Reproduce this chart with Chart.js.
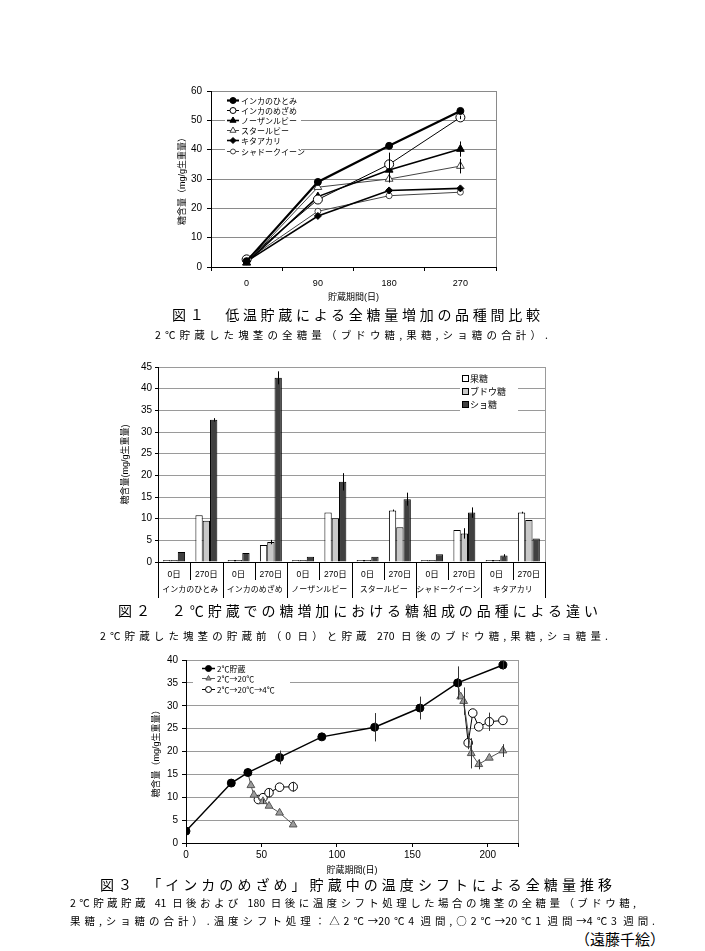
<!DOCTYPE html>
<html lang="ja">
<head>
<meta charset="utf-8">
<title>低温貯蔵による全糖量の推移</title>
<script src="https://cdn.jsdelivr.net/npm/chart.js@4.4.1/dist/chart.umd.min.js"></script>
<style>
  body { margin: 0; background: #fff; width: 705px; height: 951px; position: relative; overflow: hidden;
         font-family: "Noto Sans CJK JP", sans-serif; color: #000; }
  canvas { position: absolute; }
  .cap { position: absolute; line-height: 1.2; text-align: justify; text-align-last: justify; }
  .title { font-size: 14px; }
  .sub { font-size: 10.5px; }
</style>
</head>
<body>
<canvas id="chart1" width="350" height="232" style="left:160px;top:80px"></canvas>
<div class="cap title" style="left:172px;top:306px;width:368px">図１　低温貯蔵による全糖量増加の品種間比較</div>
<div class="cap sub" style="left:155px;top:329px;width:393px">2℃貯蔵した塊茎の全糖量（ブドウ糖,果糖,ショ糖の合計）.</div>

<canvas id="chart2" width="450" height="255" style="left:110px;top:355px"></canvas>
<div class="cap title" style="left:118px;top:602px;width:480px">図２　２℃貯蔵での糖増加における糖組成の品種による違い</div>
<div class="cap sub" style="left:100px;top:630px;width:508px">2℃貯蔵した塊茎の貯蔵前（0 日）と貯蔵 270 日後のブドウ糖,果糖,ショ糖量.</div>

<canvas id="chart3" width="392" height="226" style="left:140px;top:650px"></canvas>
<div class="cap title" style="left:100px;top:876px;width:512px">図３　「インカのめざめ」貯蔵中の温度シフトによる全糖量推移</div>
<div class="cap sub" style="left:70px;top:897px;width:566px">2℃貯蔵貯蔵 41 日後および 180 日後に温度シフト処理した場合の塊茎の全糖量（ブドウ糖,</div>
<div class="cap sub" style="left:70px;top:915px;width:585px">果糖,ショ糖の合計）.温度シフト処理：△2℃→20℃4 週間,○2℃→20℃1 週間→4℃3 週間.</div>
<div class="cap title" style="left:575px;top:930px;width:85px;font-size:15px">（遠藤千絵）</div>

<script>
// ---- 図1: 品種別の全糖量 (mg/g生重量)
const c1Days = ['0', '90', '180', '270'];
const c1Hitomi = [2.0, 29.0, 41.3, 53.2];
const c1Mezame = [2.6, 23.0, 35.0, 51.0];
const c1Northern = [1.5, 24.0, 33.1, 40.2];
const c1StarRuby = [1.4, 27.2, 30.0, 34.4];
const c1Kitaakari = [1.9, 17.4, 26.1, 26.8];
const c1Shadow = [2.3, 19.0, 24.3, 25.5];
const c1MezameErr = [0, 0, 4.0, 0.6];
const c1NorthernErr = [0, 0, 1.0, 2.6];
const c1StarRubyErr = [0, 0, 1.2, 2.5];
const c1Ticks = [0, 10, 20, 30, 40, 50, 60];

// ---- 図2: 糖組成
const c2Labels = ['0日', '270日', '0日', '270日', '0日', '270日', '0日', '270日', '0日', '270日', '0日', '270日'];
const c2Groups = ['インカのひとみ', 'インカのめざめ', 'ノーザンルビー', 'スタールビー', 'シャドークイーン', 'キタアカリ'];
const c2Fructose = [0.1, 10.8, 0.1, 3.9, 0.1, 11.4, 0.1, 11.9, 0.1, 7.4, 0.1, 11.4];
const c2Glucose = [0.1, 9.5, 0.2, 4.6, 0.2, 10.1, 0.2, 8.0, 0.2, 6.6, 0.2, 9.7];
const c2Sucrose = [2.3, 32.8, 2.1, 42.5, 1.2, 18.5, 1.2, 14.5, 1.8, 11.4, 1.5, 5.4];
const c2FructoseErr = [0, 0, 0, 0, 0, 0, 0, 0.2, 0, 0, 0, 0.2];
const c2GlucoseErr = [0, 0, 0, 0.5, 0, 0, 0, 0, 0, 1.2, 0, 0];
const c2SucroseErr = [0, 0.4, 0, 1.5, 0, 2.0, 0, 1.5, 0, 1.2, 0.3, 0];

// ---- 図3: 「インカのめざめ」温度シフト
const c3Days = [0, 30, 41, 62, 90, 125, 155, 180, 210];
const c3Base = [2.6, 13.1, 15.4, 18.7, 23.2, 25.3, 29.5, 35.0, 38.9];
const c3BaseErr = [0, 0, 0, 1.5, 0, 3.1, 2.5, 3.6, 1.0];
const c3ShiftDays = [41, 43, 45, 51, 55, 62, 71, null, 180, 182, 184, 189, 194, 201, 210];
const c3Shift = [15.4, 12.6, 10.5, 9.1, 8.1, 6.6, 4.0, null, 35.0, 32.0, 31.0, 19.6, 17.2, 18.6, 20.2];
const c3ShiftErr = [0, 0, 0, 0.5, 0, 0, 0, 0, 0, 0, 3.0, 3.3, 1.1, 0, 1.4];
const c3ReturnDays = [45, 48, 51, 55, 62, 71, null, 184, 187, 190, 194, 201, 210];
const c3Return = [10.5, 9.5, 9.9, 11.0, 12.2, 12.3, null, 31.0, 21.9, 28.4, 25.4, 26.5, 26.8];
const c3ReturnErr = [0, 0, 0, 1.0, 0, 1.1, 0, 0, 1.4, 0, 0, 2.0, 0];

Chart.defaults.font.family = '"Liberation Sans", "Noto Sans CJK JP", sans-serif';
Chart.defaults.color = '#000';
Chart.defaults.animation = false;
Chart.defaults.plugins.legend.display = false;
Chart.defaults.plugins.tooltip.enabled = false;

const fixWidth = w => scale => { scale.width = w; };
const fixHeight = h => scale => { scale.height = h; };

// gray box round the plot area (Excel style)
const plotFrame = {
    id: 'plotFrame',
    beforeDraw(chart, args, opts) {
        const { ctx, chartArea: a } = chart;
        ctx.save();
        ctx.strokeStyle = opts.color;
        ctx.lineWidth = 1;
        ctx.strokeRect(Math.round(a.left) + 0.5, Math.round(a.top) + 0.5, Math.round(a.width), Math.round(a.height));
        ctx.restore();
    }
};

// vertical error bars from dataset.errorBars
const errorBars = {
    id: 'errorBars',
    afterDatasetsDraw(chart, args, opts) {
        const { ctx } = chart;
        const y = chart.scales.y;
        ctx.save();
        ctx.strokeStyle = opts.color;
        ctx.lineWidth = 1;
        chart.data.datasets.forEach((ds, i) => {
            if (!ds.errorBars) return;
            const meta = chart.getDatasetMeta(i);
            meta.data.forEach((el, j) => {
                const e = ds.errorBars[j];
                if (!e) return;
                const v = meta.controller.getParsed(j).y;
                const x = Math.round(el.x) + 0.5;
                ctx.beginPath();
                ctx.moveTo(x, y.getPixelForValue(v - e));
                ctx.lineTo(x, y.getPixelForValue(v + e));
                ctx.stroke();
            });
        });
        ctx.restore();
    }
};

// legend drawn inside the plot area on a white box
const insideLegend = {
    id: 'insideLegend',
    afterDraw(chart, args, o) {
        const { ctx, chartArea: a } = chart;
        const x0 = a.left + o.x;
        const y0 = a.top + o.y;
        ctx.save();
        ctx.fillStyle = '#fff';
        ctx.fillRect(x0, y0, o.width, o.height);
        ctx.font = o.font;
        ctx.textBaseline = 'middle';
        chart.data.datasets.forEach((ds, i) => {
            const y = Math.round(y0 + o.padTop + i * o.rowHeight) + 0.5;
            if (o.kind === 'box') {
                ctx.fillStyle = ds.backgroundColor;
                ctx.strokeStyle = '#000';
                ctx.lineWidth = 1;
                ctx.fillRect(x0 + o.padLeft, y - 3, 6, 6);
                ctx.strokeRect(x0 + o.padLeft + 0.5, y - 3, 6, 6);
            } else {
                ctx.strokeStyle = ds.borderColor;
                ctx.lineWidth = ds.borderWidth;
                ctx.beginPath();
                ctx.moveTo(x0 + o.padLeft, y);
                ctx.lineTo(x0 + o.padLeft + o.lineLength, y);
                ctx.stroke();
                ctx.fillStyle = ds.pointBackgroundColor;
                ctx.strokeStyle = ds.pointBorderColor;
                ctx.lineWidth = 1;
                Chart.helpers.drawPoint(ctx, {
                    pointStyle: ds.pointStyle, rotation: 0, borderWidth: 1,
                    radius: (ds.legendRadius || 3)
                }, x0 + o.padLeft + o.lineLength / 2, y);
            }
            ctx.fillStyle = '#000';
            ctx.fillText(ds.label, x0 + o.textX, y);
        });
        ctx.restore();
    }
};

// two-level category labels for chart 2
const groupLabels = {
    id: 'groupLabels',
    afterDraw(chart, args, o) {
        const { ctx, chartArea: a } = chart;
        const n = chart.data.labels.length;
        const w = a.width / n;
        ctx.save();
        ctx.strokeStyle = '#000';
        ctx.lineWidth = 1;
        for (let i = 0; i <= n; i++) {
            const x = Math.round(a.left + i * w) + 0.5;
            ctx.beginPath();
            ctx.moveTo(x, a.bottom);
            ctx.lineTo(x, a.bottom + (i % 2 === 0 ? o.groupLine : o.tickLine));
            ctx.stroke();
        }
        ctx.font = o.font;
        ctx.fillStyle = '#000';
        ctx.textAlign = 'center';
        ctx.textBaseline = 'middle';
        c2Groups.forEach((g, k) => ctx.fillText(g, a.left + (2 * k + 1) * w, a.bottom + o.offset));
        ctx.restore();
    }
};

function lineSet(label, data, style) {
    return Object.assign({
        label, data,
        borderColor: '#000', pointBorderColor: '#000', pointBorderWidth: 1,
        tension: 0, fill: false
    }, style);
}

// ---------- chart 1
new Chart(document.getElementById('chart1'), {
    type: 'line',
    data: {
        labels: c1Days,
        datasets: [
            lineSet('インカのひとみ', c1Hitomi, { borderWidth: 2.2, pointStyle: 'circle', pointRadius: 3.5, pointBackgroundColor: '#000', legendRadius: 3 }),
            lineSet('インカのめざめ', c1Mezame, { borderWidth: 1, pointStyle: 'circle', pointRadius: 4.5, pointBackgroundColor: '#fff', errorBars: c1MezameErr, legendRadius: 3 }),
            lineSet('ノーザンルビー', c1Northern, { borderWidth: 1.6, pointStyle: 'triangle', pointRadius: 4.5, pointBackgroundColor: '#000', errorBars: c1NorthernErr, legendRadius: 3.5 }),
            lineSet('スタールビー', c1StarRuby, { borderWidth: 1, borderColor: '#444', pointStyle: 'triangle', pointRadius: 4.5, pointBackgroundColor: '#fff', pointBorderColor: '#444', errorBars: c1StarRubyErr, legendRadius: 3.5 }),
            lineSet('キタアカリ', c1Kitaakari, { borderWidth: 1.6, pointStyle: 'rectRot', pointRadius: 3.5, pointBackgroundColor: '#000', legendRadius: 3 }),
            lineSet('シャドークイーン', c1Shadow, { borderWidth: 1, borderColor: '#444', pointStyle: 'circle', pointRadius: 3, pointBackgroundColor: '#fff', pointBorderColor: '#444', legendRadius: 2.5 })
        ]
    },
    options: {
        responsive: false,
        layout: { padding: { top: 10, right: 14, left: 0, bottom: 0 } },
        scales: {
            x: {
                offset: true,
                afterFit: fixHeight(45),
                grid: { drawOnChartArea: false, offset: true, tickLength: 4, tickColor: '#000' },
                border: { color: '#000' },
                ticks: { font: { size: 9 }, padding: 7 },
                title: { display: true, text: '貯蔵期間(日)', font: { size: 9 }, padding: { top: 0, bottom: 9 } }
            },
            y: {
                min: 0, max: 60,
                afterFit: fixWidth(51),
                afterBuildTicks: axis => { axis.ticks = c1Ticks.map(v => ({ value: v })); },
                grid: { color: '#8a8a8a', tickLength: 4, tickColor: '#000' },
                border: { color: '#000' },
                ticks: { font: { size: 10 }, padding: 5 },
                title: { display: true, text: '糖含量（mg/g生重量）', font: { size: 9 }, padding: { top: 17, bottom: 0 } }
            }
        },
        plugins: {
            plotFrame: { color: '#8a8a8a' },
            errorBars: { color: '#000' },
            insideLegend: { x: 14, y: 3, width: 76, height: 57, padTop: 6, rowHeight: 10.1, padLeft: 2, lineLength: 12, textX: 16, font: '8px "Noto Sans CJK JP"', kind: 'line' }
        }
    },
    plugins: [plotFrame, errorBars, insideLegend]
});

// ---------- chart 2
function barSet(label, data, color, err) {
    return { label, data, backgroundColor: color, borderColor: '#000', borderWidth: 1, errorBars: err,
             minBarLength: 2, categoryPercentage: 0.68, barPercentage: 1.0 };
}

new Chart(document.getElementById('chart2'), {
    type: 'bar',
    data: {
        labels: c2Labels,
        datasets: [
            barSet('果糖', c2Fructose, '#ffffff', c2FructoseErr),
            barSet('ブドウ糖', c2Glucose, '#c8c8c8', c2GlucoseErr),
            barSet('ショ糖', c2Sucrose, '#404040', c2SucroseErr)
        ]
    },
    options: {
        responsive: false,
        layout: { padding: { top: 12, right: 15, left: 0, bottom: 0 } },
        scales: {
            x: {
                afterFit: fixHeight(48),
                grid: { display: false },
                border: { color: '#000' },
                ticks: { font: { size: 8.5 }, padding: 0, maxRotation: 0, autoSkip: false }
            },
            y: {
                min: 0, max: 45,
                afterFit: fixWidth(48),
                ticks: { stepSize: 5, font: { size: 10 }, padding: 3 },
                grid: { color: '#9a9a9a', tickLength: 3, tickColor: '#000' },
                border: { color: '#000' },
                title: { display: true, text: '糖含量(mg/g生重量)', font: { size: 9 }, padding: { top: 10.5, bottom: 0 } }
            }
        },
        plugins: {
            plotFrame: { color: '#9a9a9a' },
            errorBars: { color: '#000' },
            groupLabels: { groupLine: 36, tickLine: 18, offset: 27, font: '8px "Noto Sans CJK JP"' },
            insideLegend: { x: 302, y: 6, width: 58, height: 40, padTop: 5, rowHeight: 13, padLeft: 2, textX: 10, font: '9px "Noto Sans CJK JP"', kind: 'box' }
        }
    },
    plugins: [plotFrame, errorBars, groupLabels, insideLegend]
});

// ---------- chart 3
const toPoints = (xs, ys) => xs.map((x, i) => ({ x: x, y: ys[i] }));
const isLink = ctx => ctx.dataIndex === 0 || c3ReturnDays[ctx.dataIndex - 1] === null;

new Chart(document.getElementById('chart3'), {
    type: 'scatter',
    data: {
        datasets: [
            lineSet('2℃貯蔵', toPoints(c3Days, c3Base), { showLine: true, borderWidth: 1.5, pointStyle: 'circle', pointRadius: 4, pointBackgroundColor: '#000', errorBars: c3BaseErr, legendRadius: 3 }),
            lineSet('2℃→20℃', toPoints(c3ShiftDays, c3Shift), { showLine: true, borderWidth: 1, borderColor: '#555', pointStyle: 'triangle', pointRadius: 4.5, pointBackgroundColor: '#9c9c9c', pointBorderColor: '#555', errorBars: c3ShiftErr, legendRadius: 3 }),
            lineSet('2℃→20℃→4℃', toPoints(c3ReturnDays, c3Return), { showLine: true, borderWidth: 1, pointStyle: 'circle', pointRadius: c => isLink(c) ? 0 : 4.3, pointBackgroundColor: '#fff', errorBars: c3ReturnErr, legendRadius: 3 })
        ]
    },
    options: {
        responsive: false,
        layout: { padding: { top: 10, right: 14, left: 0, bottom: 0 } },
        scales: {
            x: {
                type: 'linear', min: 0, max: 220,
                afterFit: fixHeight(33),
                ticks: { stepSize: 50, font: { size: 10 }, padding: 2, callback: v => (v % 50 === 0 ? v : '') },
                grid: { drawOnChartArea: false, tickLength: 4, tickColor: '#000' },
                border: { color: '#000' },
                title: { display: true, text: '貯蔵期間(日)', font: { size: 9 }, padding: { top: 0, bottom: 0 } }
            },
            y: {
                min: 0, max: 40,
                afterFit: fixWidth(46),
                ticks: { stepSize: 5, font: { size: 10 }, padding: 4 },
                grid: { color: '#9a9a9a', tickLength: 4, tickColor: '#000' },
                border: { color: '#000' },
                title: { display: true, text: '糖含量（mg/g生重量）', font: { size: 9 }, padding: { top: 11.5, bottom: 0 } }
            }
        },
        plugins: {
            plotFrame: { color: '#9a9a9a' },
            errorBars: { color: '#333' },
            insideLegend: { x: 7, y: 1, width: 97, height: 37, padTop: 6.5, rowHeight: 10.6, padLeft: 9, lineLength: 13, textX: 24, font: '8px "Noto Sans CJK JP"', kind: 'line' }
        }
    },
    plugins: [plotFrame, errorBars, insideLegend]
});
</script>
</body>
</html>
